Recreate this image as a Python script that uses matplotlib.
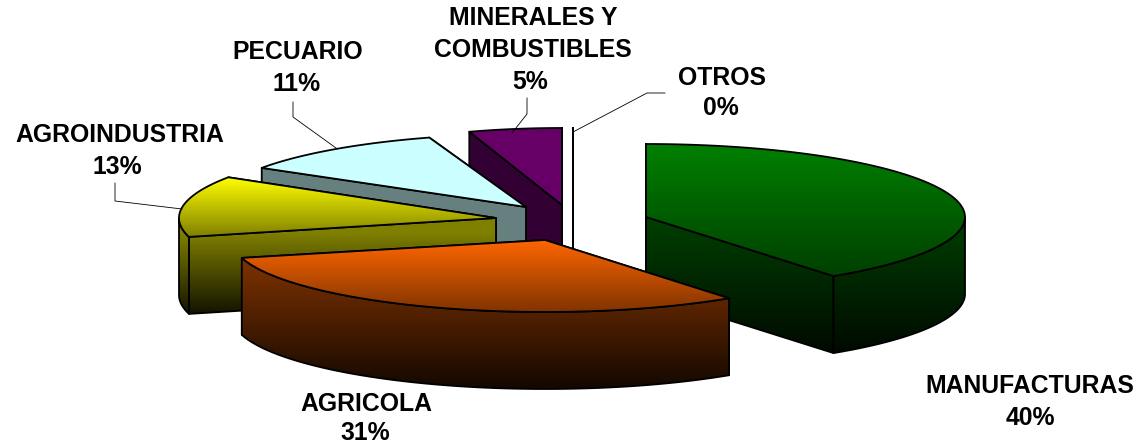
import numpy as np
import matplotlib
matplotlib.use("Agg")
import matplotlib.pyplot as plt
from matplotlib.patches import Polygon
from matplotlib.colors import to_rgb

plt.rcParams['font.family'] = ['Liberation Sans', 'DejaVu Sans']

# data
categories = ["MANUFACTURAS", "AGRICOLA", "AGROINDUSTRIA", "PECUARIO", "MINERALES Y\nCOMBUSTIBLES", "OTROS"]
shares = [40, 31, 13, 11, 5, 0]

# apex of each exploded slice, ellipse radii (pixels)
apex = [(646, 217), (545, 240), (496, 218), (526, 207), (562, 205), (573, 205)]
radii = [(319, 73), (313, 72), (317, 76), (313, 73), (300, 77), (300, 77)]
depth = 77
top_colors = ["#008000", "#ff6600", "#ffff00", "#ccffff", "#660066", "#ffffff"]
side_colors = ["#004000", "#803300", "#808000", "#668080", "#330033", "#808080"]
shaded = [True, True, True, False, False, False]
side_grad_top = [217, 258, 232, 0, 0, 0]
draw_order = [4, 5, 3, 2, 0, 1]

label_pos = [(1030, 386, 418), (366, 404, 433), (119.5, 135, 167),
             (298, 52, 84), (533, 34, 82), (722, 78, 108)]
pct_x = [1030, 365, 117, 297, 530, 721]
leaders = [
    [(115, 183), (115, 201), (182, 209)],
    [(293, 102), (293, 117), (336, 148)],
    [(527, 98), (527, 114), (512, 133)],
    [(665, 93), (647, 93), (573, 132)],
]

fig = plt.figure(figsize=(11.39, 4.44), dpi=100)
ax = fig.add_axes([0, 0, 1, 1])
ax.set_xlim(0, 1139)
ax.set_ylim(444, 0)
ax.axis("off")


def rim(i, a):
    # a in degrees, clockwise from the top
    cx, cy = apex[i]
    rx, ry = radii[i]
    t = np.radians(a)
    return cx + rx * np.sin(t), cy - ry * np.cos(t)


def fill(xs, ys, c0, c1, y0, y1, z):
    pts = np.column_stack([xs, ys])
    poly = Polygon(pts, closed=True, fc="none", ec="black", lw=1.3, joinstyle="round", zorder=z + 0.5)
    ax.add_patch(poly)
    c0, c1 = np.array(c0), np.array(c1)
    # colour by pixel row, clamped outside y0..y1
    top_y, bot_y = min(ys) - 1, max(ys) + 1
    rows = np.linspace(top_y, bot_y, 256)
    f = np.clip((rows - y0) / (y1 - y0), 0, 1)[:, None, None]
    img = c0[None, None, :] * (1 - f) + c1[None, None, :] * f
    im = ax.imshow(img, extent=[min(xs) - 1, max(xs) + 1, bot_y, top_y], aspect="auto",
                   interpolation="bilinear", zorder=z)
    clip = Polygon(pts, closed=True, transform=ax.transData)
    im.set_clip_path(clip)


# slice angles from the shares
ends = np.cumsum(shares) / sum(shares) * 360
starts = np.concatenate([[0], ends[:-1]])

z = 2
for i in draw_order:
    a0, a1 = starts[i], ends[i]
    if i == 5:
        a0, a1 = 360, 360
    cx, cy = apex[i]
    ang = np.linspace(a0, a1, 80)
    rx_pts, ry_pts = rim(i, ang)

    top = np.array(to_rgb(top_colors[i]))
    side = np.array(to_rgb(side_colors[i]))
    y_min, y_max = min(ry_pts.min(), cy), max(ry_pts.max(), cy)
    s_max = y_max + depth
    s_min = side_grad_top[i] if shaded[i] else y_min
    if shaded[i]:
        top_a, top_b = top, top * 0.5
        side_a, side_b = side, side * 0.15
    else:
        top_a, top_b = top, top
        side_a, side_b = side, side

    # radial faces, the one further back first
    faces = sorted([a0, a1], key=lambda a: rim(i, a)[1])
    for a in faces:
        x, y = rim(i, a)
        fill([x, cx, cx, x], [y, cy, cy + depth, y + depth], side_a, side_b, s_min, s_max, z)
        z += 1

    # outer wall, front half only
    lo, hi = max(a0, 90), min(a1, 270)
    if hi > lo:
        wa = np.linspace(lo, hi, 60)
        wx, wy = rim(i, wa)
        fill(np.r_[wx, wx[::-1]], np.r_[wy, wy[::-1] + depth], side_a, side_b, s_min, s_max, z)
        z += 1

    # top face
    if a1 > a0:
        fill(np.r_[cx, rx_pts], np.r_[cy, ry_pts], top_a, top_b, y_min, y_max, z)
        z += 1

for pts in leaders:
    xs, ys = zip(*pts)
    ax.plot(xs, ys, color="black", lw=0.6, zorder=z)

ax.set_xlim(0, 1139)
ax.set_ylim(444, 0)

for i, name in enumerate(categories):
    x, y, y2 = label_pos[i]
    ax.text(x, y, name, ha="center", va="center", fontsize=17.8, fontweight="bold",
            linespacing=1.4, zorder=z + 1)
    ax.text(pct_x[i], y2, f"{shares[i]}%", ha="center", va="center", fontsize=17.8,
            fontweight="bold", zorder=z + 1)

fig.savefig("out.png", dpi=100, facecolor="white")
